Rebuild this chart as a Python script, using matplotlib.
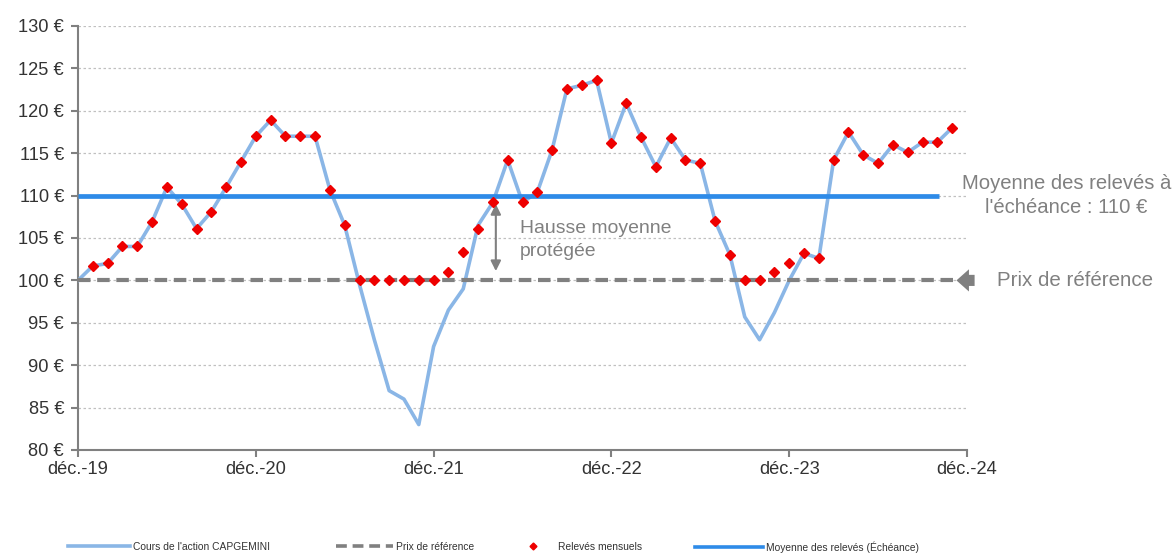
import numpy as np
import matplotlib
matplotlib.use("Agg")
import matplotlib.pyplot as plt
from matplotlib import font_manager
from matplotlib.lines import Line2D

# Données (lecture du graphique) : mois depuis déc.-19
mois_cours = np.arange(0, 60)
cours = [100.0, 101.7, 102.0, 104.0, 104.0, 106.9, 111.0, 109.0, 106.1, 108.1,
         111.0, 114.0, 117.0, 118.9, 117.0, 117.0, 117.0, 110.7, 106.5, 99.5,
         93.0, 87.0, 86.0, 83.0, 92.2, 96.5, 99.0, 106.5, 109.2, 114.2,
         109.2, 110.4, 115.4, 122.6, 123.0, 123.6, 116.2, 120.9, 116.9, 113.4,
         116.8, 114.2, 113.8, 107.0, 103.0, 95.7, 93.0, 96.2, 100.0, 103.2,
         102.6, 114.2, 117.5, 114.8, 113.8, 116.0, 115.1, 116.3, 116.3, 118.0]

mois_releves = np.arange(1, 60)
releves = [101.7, 102.0, 104.0, 104.0, 106.9, 111.0, 109.0, 106.1, 108.1,
           111.0, 114.0, 117.0, 118.9, 117.0, 117.0, 117.0, 110.7, 106.5, 100.0,
           100.0, 100.0, 100.0, 100.0, 100.0, 101.0, 103.3, 106.1, 109.2, 114.2,
           109.2, 110.4, 115.4, 122.6, 123.0, 123.6, 116.2, 120.9, 116.9, 113.4,
           116.8, 114.2, 113.8, 107.0, 103.0, 100.0, 100.0, 101.0, 102.0, 103.2,
           102.6, 114.2, 117.5, 114.8, 113.8, 116.0, 115.1, 116.3, 116.3, 118.0]

prix_reference = 100
moyenne_releves = 110

x_ticks = [0, 12, 24, 36, 48, 60]
x_labels = ["déc.-19", "déc.-20", "déc.-21", "déc.-22", "déc.-23", "déc.-24"]
y_ticks = np.arange(80, 131, 5)

# police étroite si dispo
noms = {f.name for f in font_manager.fontManager.ttflist}
if "Liberation Sans Narrow" in noms:
    plt.rcParams["font.family"] = ["Liberation Sans Narrow", "DejaVu Sans"]
    k = 1.0
else:
    plt.rcParams["font.family"] = ["Liberation Sans", "DejaVu Sans"]
    k = 0.82

gris = "#808080"
fig = plt.figure(figsize=(11.74, 5.56), dpi=100)
ax = fig.add_axes([78 / 1174, 1 - 450 / 556, (967 - 78) / 1174, (450 - 26) / 556])

ax.plot(mois_cours, cours, color="#8AB6E6", lw=2.6, zorder=3)
ax.hlines(moyenne_releves, 0, 58.1, color="#2E8BE8", lw=3.4, zorder=4)
ax.hlines(prix_reference, 0, 59.3, color=gris, lw=3, linestyles=(0, (3, 1.6)), zorder=4)
ax.plot(mois_releves, releves, "D", color="#EE0000", ms=5.6, mec="#EE0000", zorder=5)

# flèche prix de référence
ax.annotate("", xy=(59.1, prix_reference), xytext=(60.7, prix_reference),
            arrowprops=dict(arrowstyle="simple,head_width=1.6,head_length=0.9,tail_width=0.8",
                            color=gris, lw=0), annotation_clip=False)
ax.text(62.0, prix_reference, "Prix de référence", color=gris, fontsize=18 * k,
        va="center", ha="left", clip_on=False)
ax.text(66.7, moyenne_releves, "Moyenne des relevés à\nl'échéance : 110 €", color=gris,
        fontsize=17.8 * k, va="center", ha="center", linespacing=1.3, clip_on=False)

# hausse protégée
ax.annotate("", xy=(28.2, 109.0), xytext=(28.2, 101.1),
            arrowprops=dict(arrowstyle="<|-|>,head_length=0.6,head_width=0.3",
                            color=gris, lw=1.5, shrinkA=0, shrinkB=0))
ax.text(29.8, 104.8, "Hausse moyenne\nprotégée", color=gris, fontsize=17 * k,
        va="center", ha="left", linespacing=1.45)

ax.set_xlim(0, 60)
ax.set_ylim(80, 130)
ax.set_xticks(x_ticks)
ax.set_xticklabels(x_labels)
ax.set_yticks(y_ticks)
ax.set_yticklabels([f"{v} €" for v in y_ticks])
ax.tick_params(axis="both", labelsize=16 * k, colors="#333333", length=5, width=1.5)
ax.tick_params(axis="both", color=gris)
ax.tick_params(axis="x", pad=3)
ax.tick_params(axis="y", pad=5)
ax.grid(axis="y", color="#C0C0C0", lw=0.9, linestyle=(0, (2, 2)))
ax.set_axisbelow(True)
for s in ["top", "right"]:
    ax.spines[s].set_visible(False)
for s in ["left", "bottom"]:
    ax.spines[s].set_color(gris)
    ax.spines[s].set_linewidth(1.5)

# légende en bas
items = [
    (Line2D([], [], color="#8AB6E6", lw=2.6), "Cours de l'action CAPGEMINI", 68, 6.0),
    (Line2D([], [], color=gris, lw=2.6, linestyle=(0, (3, 1.6))), "Prix de référence", 336, 5.6),
    (Line2D([], [], color="#EE0000", marker="D", ms=3.5, lw=0), "Relevés mensuels", 510, 4.4),
    (Line2D([], [], color="#2E8BE8", lw=2.6), "Moyenne des relevés (Échéance)", 695, 6.6),
]
for h, lab, xpx, hl in items:
    leg = fig.legend(handles=[h], labels=[lab], loc="center left",
                     bbox_to_anchor=(xpx / 1174, 1 - 547 / 556), frameon=False,
                     fontsize=9 * k, handlelength=hl, borderpad=0, borderaxespad=0,
                     handletextpad=0.3)
    for t in leg.get_texts():
        t.set_color("#333333")

fig.savefig("out.png", dpi=100)
